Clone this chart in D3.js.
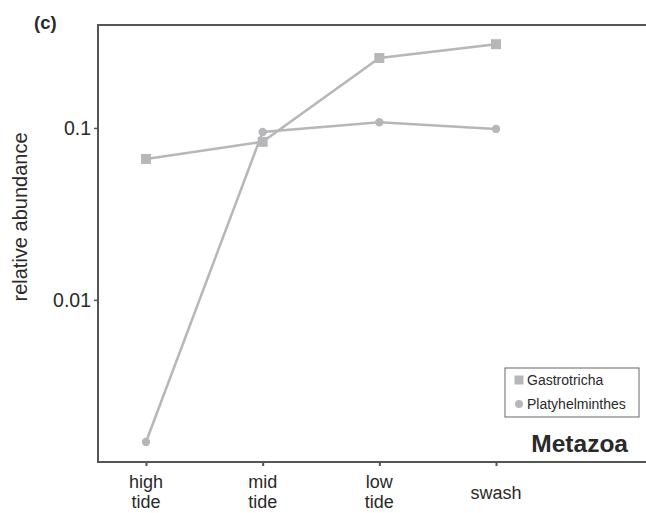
<!DOCTYPE html>
<html>
<head>
<meta charset="utf-8">
<script src="https://cdn.jsdelivr.net/npm/d3@7"></script>
<style>
	body { margin: 0; background: #fff; }
	text { font-family: "Liberation Sans", Arial, sans-serif; fill: #2a2a2a; }
	.frame line, .frame path { stroke: #555; stroke-width: 2; fill: none; }
	.series path { fill: none; stroke: #b7b7ba; stroke-width: 2.5; }
	.series .mark { fill: #b7b7ba; }
</style>
</head>
<body>
<div class="chart-c"></div>
<script>

	// data
	const sites = ["high tide", "mid tide", "low tide", "swash"];
	const siteLabels = [["high", "tide"], ["mid", "tide"], ["low", "tide"], ["swash"]];
	const gastrotricha = [0.066, 0.083, 0.255, 0.307];
	const platyhelminthes = [0.00149, 0.0948, 0.108, 0.0987];
	const yTicks = [0.1, 0.01];
	const yTickLabels = ["0.1", "0.01"];

	const series = [
		{ name: "Gastrotricha", shape: "square", values: gastrotricha },
		{ name: "Platyhelminthes", shape: "circle", values: platyhelminthes }
	];

	const width = 646;
	const height = 513;
	const margin = { top: 25, left: 98, bottom: 462 };

	// scales
	const scaleX = d3.scalePoint().domain(sites).range([146 - margin.left, 496 - margin.left]);
	const scaleY = d3.scaleLog().domain([0.00114, 0.397]).range([margin.bottom - margin.top, 0]);

	const svg = d3.select(".chart-c")
		.append("svg")
			.attr("width", width)
			.attr("height", height);

	const plot = svg.append("g")
		.attr("transform", `translate(${margin.left}, ${margin.top})`);

	const plotH = margin.bottom - margin.top;

	// frame: top, left, bottom (open on the right)
	const frame = plot.append("g").attr("class", "frame");
	frame.append("path")
		.attr("d", `M${width - margin.left + 5},0H0V${plotH}H${width - margin.left + 5}`);

	// y ticks
	const yAxis = d3.axisLeft(scaleY)
		.tickValues(yTicks)
		.tickSize(4)
		.tickPadding(3)
		.tickFormat((d, i) => yTickLabels[i]);

	const gy = plot.append("g").call(yAxis);
	gy.select(".domain").remove();
	gy.selectAll(".tick line").attr("stroke", "#555").attr("stroke-width", 1.5);
	gy.selectAll(".tick text")
		.attr("font-size", 19.5)
		.attr("font-family", "Liberation Sans, Arial, sans-serif")
		.attr("fill", "#333");

	// x ticks
	const xAxis = d3.axisBottom(scaleX).tickSize(4).tickFormat("");
	const gx = plot.append("g")
		.attr("transform", `translate(0, ${plotH})`)
		.call(xAxis);
	gx.select(".domain").remove();
	gx.selectAll(".tick line").attr("stroke", "#555").attr("stroke-width", 2);

	// x labels (one or two lines)
	const xl = plot.append("g")
		.selectAll(".site")
			.data(sites).enter()
		.append("text")
			.attr("class", "site")
			.attr("text-anchor", "middle")
			.attr("font-size", 18)
			.attr("x", (d) => scaleX(d))
			.attr("y", (d, i) => siteLabels[i].length > 1 ? 488 - margin.top : 499 - margin.top);

	xl.selectAll("tspan")
		.data((d, i) => siteLabels[i]).enter()
		.append("tspan")
			.attr("x", function() { return this.parentNode.getAttribute("x"); })
			.attr("dy", (d, i) => i === 0 ? 0 : 20)
			.text((d) => d);

	// lines and markers
	const line = d3.line()
		.x((d, i) => scaleX(sites[i]))
		.y((d) => scaleY(d));

	const groups = plot.selectAll(".series")
		.data(series).enter()
		.append("g")
			.attr("class", "series");

	groups.append("path")
		.attr("d", (d) => line(d.values));

	groups.each(function(s) {
		const g = d3.select(this);
		if (s.shape === "square") {
			g.selectAll(".mark")
				.data(s.values).enter()
				.append("rect")
					.attr("class", "mark")
					.attr("x", (d, i) => scaleX(sites[i]) - 5)
					.attr("y", (d) => scaleY(d) - 5)
					.attr("width", 10)
					.attr("height", 10);
		} else {
			g.selectAll(".mark")
				.data(s.values).enter()
				.append("circle")
					.attr("class", "mark")
					.attr("cx", (d, i) => scaleX(sites[i]))
					.attr("cy", (d) => scaleY(d))
					.attr("r", 4.2);
		}
	});

	// legend
	const legend = svg.append("g").attr("transform", "translate(505, 368)");
	legend.append("rect")
		.attr("width", 134)
		.attr("height", 49)
		.attr("fill", "#fff")
		.attr("stroke", "#666")
		.attr("stroke-width", 1);

	const items = legend.selectAll(".item")
		.data(series).enter()
		.append("g")
			.attr("class", "item")
			.attr("transform", (d, i) => `translate(14, ${12 + i * 24})`);

	items.filter((d) => d.shape === "square")
		.append("rect")
			.attr("x", -4.5).attr("y", -4.5)
			.attr("width", 9).attr("height", 9)
			.attr("fill", "#b7b7ba");

	items.filter((d) => d.shape === "circle")
		.append("circle")
			.attr("r", 4)
			.attr("fill", "#b7b7ba");

	items.append("text")
		.attr("x", 8)
		.attr("dy", "0.36em")
		.attr("font-size", 14)
		.text((d) => d.name);

	// panel title and tag
	svg.append("text")
		.attr("x", 628)
		.attr("y", 452)
		.attr("text-anchor", "end")
		.attr("font-size", 24.5)
		.attr("font-weight", "bold")
		.attr("fill", "#1a1a1a")
		.text("Metazoa");

	svg.append("text")
		.attr("x", 34)
		.attr("y", 29)
		.attr("font-size", 18.5)
		.attr("font-weight", "bold")
		.attr("fill", "#1a1a1a")
		.text("(c)");

	svg.append("text")
		.attr("transform", "translate(27, 217) rotate(-90)")
		.attr("text-anchor", "middle")
		.attr("font-size", 20)
		.text("relative abundance");

</script>
</body>
</html>
